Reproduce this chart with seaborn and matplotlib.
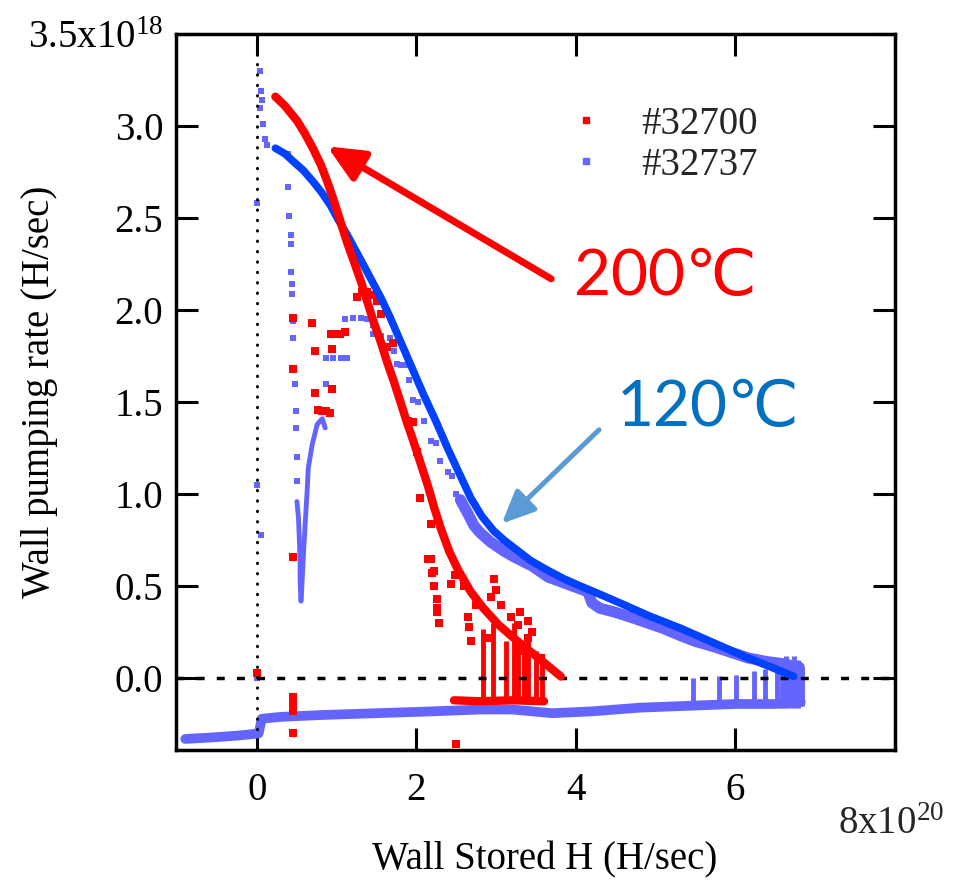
import numpy as np
import pandas as pd
import matplotlib
matplotlib.use("Agg")
import matplotlib.pyplot as plt
import seaborn as sns
from matplotlib.lines import Line2D

# ---------------- data (x in 1e20, y in 1e18) ----------------
# fitted curves
red_fit_x = [0.23, 0.35, 0.50, 0.60, 0.70, 0.80, 0.88, 0.96, 1.04, 1.12, 1.21, 1.30, 1.38, 1.46, 1.55, 1.63,
             1.71, 1.80, 1.88, 1.96, 2.05, 2.14, 2.22, 2.30, 2.41, 2.52, 2.68, 2.84, 3.03, 3.27, 3.50, 3.81]
red_fit_y = [3.16, 3.11, 3.03, 2.96, 2.88, 2.79, 2.70, 2.60, 2.49, 2.38, 2.27, 2.16, 2.05, 1.94, 1.83, 1.72,
             1.62, 1.50, 1.39, 1.29, 1.17, 1.05, 0.93, 0.82, 0.69, 0.59, 0.47, 0.38, 0.29, 0.20, 0.12, 0.01]
blue_fit_x = [0.23, 0.35, 0.45, 0.58, 0.70, 0.81, 0.92, 1.02, 1.13, 1.23, 1.33, 1.44, 1.55, 1.66, 1.76, 1.86,
              1.96, 2.09, 2.24, 2.39, 2.54, 2.68, 2.82, 2.97, 3.10, 3.22, 3.43, 3.63, 3.85, 4.06, 4.28, 4.60,
              4.91, 5.32, 5.74, 6.16, 6.45, 6.73]
blue_fit_y = [2.88, 2.85, 2.81, 2.76, 2.70, 2.64, 2.57, 2.49, 2.41, 2.33, 2.25, 2.16, 2.07, 1.97, 1.87, 1.77,
              1.67, 1.54, 1.40, 1.25, 1.11, 0.98, 0.88, 0.80, 0.75, 0.71, 0.64, 0.59, 0.54, 0.50, 0.46, 0.40,
              0.34, 0.27, 0.19, 0.11, 0.06, 0.01]

# shot #32737 (blue points)
blue_base_x = [-0.9, -0.5, -0.2, 0.02, 0.06, 0.3, 0.8, 1.5, 2.2, 2.8, 3.2, 3.7, 4.2, 4.8, 5.4, 6.0, 6.5, 6.82]
blue_base_y = [-0.33, -0.32, -0.31, -0.30, -0.22, -0.21, -0.20, -0.19, -0.18, -0.17, -0.17, -0.19, -0.18, -0.16, -0.15, -0.14, -0.14, -0.13]
blue_pts_x = [0.04, 0.05, 0.06, 0.04, 0.07, 0.10, 0.12, 0.00, 0.00, 0.05, 0.00,
              0.39, 0.39, 0.40, 0.42, 0.42, 0.43, 0.44, 0.44, 0.45, 0.45, 0.45,
              0.48, 0.49, 0.49, 0.50, 0.50,
              0.86, 0.95, 1.05, 1.13, 1.10, 1.20, 1.30, 1.38, 1.45, 1.46, 1.55, 1.67,
              1.72, 1.76, 1.85, 0.86, 1.80, 1.90, 1.96, 2.02, 2.10, 2.18, 2.25, 2.30,
              2.39, 2.45, 2.50, 2.55]
blue_pts_y = [3.30, 3.19, 3.14, 3.10, 3.01, 2.93, 2.90, 2.58, 1.05, 0.78, 0.00,
              2.85, 2.67, 2.51, 2.41, 2.36, 2.21, 2.14, 2.09, 1.94, 1.85, 1.68,
              1.60, 1.45, 1.36, 1.20, 1.07,
              1.74, 1.74, 1.74, 1.74, 1.95, 1.96, 1.96, 1.95, 1.92, 1.87, 1.86, 1.85,
              1.78, 1.71, 1.70, 1.60, 1.70, 1.62, 1.51, 1.50, 1.40, 1.29, 1.28, 1.18,
              1.12, 1.10, 1.00, 0.95]
blue_drop_x = [0.50, 0.52, 0.53, 0.54, 0.54, 0.55]
blue_drop_y = [0.96, 0.87, 0.76, 0.65, 0.54, 0.42]
blue_arc_x = [0.553, 0.579, 0.604, 0.629, 0.642, 0.692, 0.755, 0.818, 0.855]
blue_arc_y = [0.42, 0.65, 0.84, 1.02, 1.14, 1.27, 1.38, 1.41, 1.36]
blue_trail_x = [2.55, 2.65, 2.72, 2.80, 2.93, 3.10, 3.22, 3.45, 3.65, 3.90, 4.15, 4.20, 4.30, 4.48, 4.70,
                4.90, 5.10, 5.32, 5.50, 5.74, 5.95, 6.16, 6.40, 6.58, 6.80]
blue_trail_y = [0.97, 0.89, 0.83, 0.79, 0.74, 0.69, 0.66, 0.61, 0.55, 0.51, 0.47, 0.41, 0.38, 0.36, 0.33,
                0.30, 0.27, 0.23, 0.20, 0.17, 0.14, 0.11, 0.09, 0.08, 0.06]
blue_spike_x = [5.47, 5.80, 6.01, 6.23, 6.37, 6.52, 6.58, 6.63, 6.68, 6.73, 6.78, 6.83]
blue_spike_top = [0.00, 0.01, 0.02, 0.04, 0.05, 0.04, 0.10, 0.12, 0.10, 0.12, 0.10, 0.06]
blue_spike_bot = [-0.15, -0.15, -0.15, -0.15, -0.15, -0.15, -0.16, -0.16, -0.16, -0.16, -0.16, -0.15]

# shot #32700 (red points)
red_pts_x = [0.00, 0.45, 0.45, 0.45, 0.45, 0.45, 0.45, 0.45,
             0.69, 0.73, 0.73, 0.77, 0.82, 0.87, 0.92, 0.94, 0.94,
             0.93, 0.98, 1.04, 1.10,
             1.26, 1.32, 1.38, 1.45, 1.51, 1.55, 1.63, 1.71,
             1.89, 1.96, 2.01, 2.05, 2.18, 2.15, 2.20, 2.26, 2.26,
             2.18, 2.22, 2.22, 2.26, 2.28, 2.43, 2.48, 2.55, 2.60, 2.64, 2.66, 2.68, 2.75,
             2.89, 2.97, 2.93, 3.00, 3.06, 3.18, 3.27, 3.40, 3.40, 3.56, 3.27, 3.30, 3.45, 2.49]
red_pts_y = [0.03, 1.96, 1.68, 0.66, -0.10, -0.14, -0.18, -0.30,
             1.93, 1.78, 1.55, 1.46, 1.45, 1.45, 1.44, 1.57, 1.79,
             1.87, 1.87, 1.87, 1.88,
             2.07, 2.10, 2.10, 2.08, 2.05, 1.98, 1.80, 1.82,
             1.40, 1.39, 1.23, 0.98, 0.84, 0.65, 0.57, 0.43, 0.36,
             0.65, 0.58, 0.50, 0.38, 0.30, 0.51, 0.56, 0.56, 0.50, 0.33, 0.28, 0.20, 0.40,
             0.22, 0.54, 0.44, 0.48, 0.40, 0.33, 0.29, 0.31, 0.22, 0.11, 0.15, 0.36, 0.25, -0.36]
red_base_x = [2.47, 2.8, 3.2, 3.6]
red_base_y = [-0.12, -0.125, -0.12, -0.125]
red_spike_x = [2.84, 2.96, 3.12, 3.22, 3.27, 3.35, 3.40, 3.50, 3.58]
red_spike_top = [0.27, 0.30, 0.20, 0.30, 0.22, 0.18, 0.20, 0.15, 0.11]

series_labels = ["#32700", "#32737"]

# ---------------- style ----------------
RED = "#FF0000"
BLUE_PTS = "#6464FF"
BLUE_FIT = "#0040FF"
BLUE_TXT = "#0070C0"
BLUE_ARW = "#5B9BD5"

sns.set_theme(style="ticks")
plt.rcParams['font.family'] = ['Liberation Serif', 'DejaVu Serif']
plt.rcParams['mathtext.fontset'] = 'custom'
plt.rcParams['mathtext.rm'] = 'Liberation Serif'
plt.rcParams['mathtext.it'] = 'Liberation Serif:italic'

fig = plt.figure(figsize=(9.55, 8.86), dpi=100)
fig.patch.set_facecolor("white")
ax = fig.add_axes([0.184, 0.1535, 0.753, 0.808])
ax.set_facecolor("white")

# blue scatter-like data
sns.lineplot(x=blue_base_x, y=blue_base_y, sort=False, estimator=None, color=BLUE_PTS, lw=7, ax=ax, zorder=2)
ax.vlines(blue_spike_x, blue_spike_bot, blue_spike_top, color=BLUE_PTS, lw=3.5, zorder=2)
sns.lineplot(x=blue_trail_x, y=blue_trail_y, sort=False, estimator=None, color=BLUE_PTS, lw=8, ax=ax, zorder=2)
sns.lineplot(x=blue_arc_x, y=blue_arc_y, sort=False, estimator=None, color=BLUE_PTS, lw=3.5, ax=ax, zorder=2)
sns.lineplot(x=blue_drop_x, y=blue_drop_y, sort=False, estimator=None, color=BLUE_PTS, lw=3.5, ax=ax, zorder=2)
sns.scatterplot(x=blue_pts_x, y=blue_pts_y, color=BLUE_PTS, marker="s", s=18, linewidth=0, ax=ax, zorder=2)

# red scatter-like data
sns.lineplot(x=red_base_x, y=red_base_y, sort=False, estimator=None, color=RED, lw=6, ax=ax, zorder=3)
ax.vlines(red_spike_x, [-0.13] * len(red_spike_x), red_spike_top, color=RED, lw=3.5, zorder=3)
sns.scatterplot(x=red_pts_x, y=red_pts_y, color=RED, marker="s", s=26, linewidth=0, ax=ax, zorder=3)

# reference lines
ax.axvline(0, color="black", lw=2.2, ls=(0, (0.1, 3.3)), dash_capstyle="round", zorder=4)
ax.axhline(0, color="black", lw=2.5, ls=(0, (2.3, 3.5)), zorder=4)

# fits
sns.lineplot(x=blue_fit_x, y=blue_fit_y, sort=False, estimator=None, color=BLUE_FIT, lw=5.5, ax=ax, zorder=5)
sns.lineplot(x=red_fit_x, y=red_fit_y, sort=False, estimator=None, color=RED, lw=6, ax=ax, zorder=6)

# axes
ax.set_xlim(-1.02, 8.0)
ax.set_ylim(-0.39, 3.5)
ax.set_xticks([0, 2, 4, 6, 8])
ax.set_xticklabels(["0", "2", "4", "6", ""])
ax.set_yticks([0, 0.5, 1.0, 1.5, 2.0, 2.5, 3.0, 3.5])
ax.set_yticklabels(["0.0", "0.5", "1.0", "1.5", "2.0", "2.5", "3.0", r"3.5x10$^{18}$"])
ax.tick_params(direction="in", length=16, width=2.2, top=True, right=True,
               labelsize=28, colors="black")
ax.tick_params(axis="x", pad=16)
ax.tick_params(axis="y", pad=9)
for sp in ax.spines.values():
    sp.set_visible(True)
    sp.set_color("black")
    sp.set_linewidth(2.5)
ax.grid(False)

ax.set_ylabel("Wall pumping rate (H/sec)", fontsize=28, color="black")
ax.yaxis.set_label_coords(-0.164, 0.5)
ax.set_xlabel("Wall Stored H (H/sec)", fontsize=28, color="black")
ax.xaxis.set_label_coords(0.513, -0.128)

fig.text(838 / 955, 1 - 834 / 886, r"8x10$^{20}$", fontsize=28, va="baseline", ha="left")

# legend
handles = [Line2D([], [], marker="s", ls="", color=RED, markersize=4),
           Line2D([], [], marker="s", ls="", color=BLUE_PTS, markersize=5)]
leg = ax.legend(handles, series_labels, loc="center left", bbox_to_anchor=(567 / 955, 1 - 145 / 886),
                bbox_transform=fig.transFigure, frameon=False, fontsize=28, handlelength=1.0,
                handletextpad=0.9, labelspacing=0.1, borderpad=0, borderaxespad=0)

# annotations
ax.annotate("", xy=(0.88, 2.89), xytext=(3.69, 2.17),
            arrowprops=dict(arrowstyle="-|>,head_length=1.1,head_width=0.5", color=RED, lw=5,
                            shrinkA=0, shrinkB=0, mutation_scale=20), zorder=7)
ax.annotate("", xy=(3.07, 0.84), xytext=(4.29, 1.35),
            arrowprops=dict(arrowstyle="-|>,head_length=1.0,head_width=0.45", color=BLUE_ARW, lw=3.6,
                            shrinkA=0, shrinkB=0, mutation_scale=20), zorder=7)
ax.text(3.98, 2.18, "200℃", fontsize=46, color=RED, va="center", ha="left",
        family=["Lato", "DejaVu Sans"], zorder=7)
ax.text(4.51, 1.47, "120℃", fontsize=46, color=BLUE_TXT, va="center", ha="left",
        family=["Lato", "DejaVu Sans"], zorder=7)

fig.savefig("out.png", dpi=100, facecolor="white")
